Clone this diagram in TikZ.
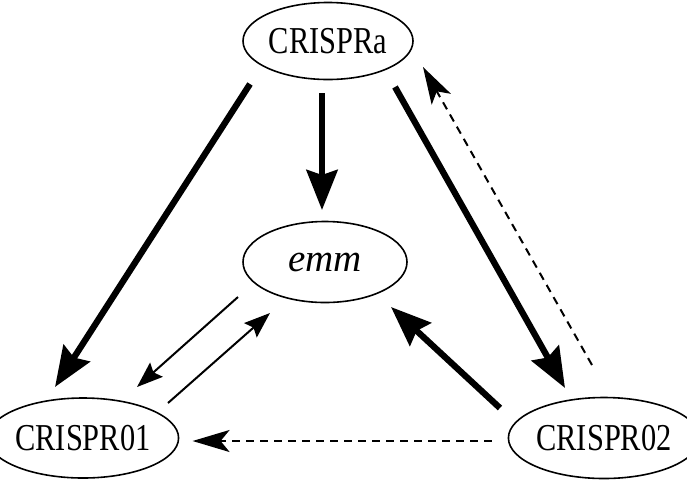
\documentclass[tikz,border=0pt]{standalone}
\usepackage{fontspec}
\setmainfont{Liberation Serif}
\newfontfamily\narrowserif[FakeStretch=0.8]{Liberation Serif}
\usetikzlibrary{arrows.meta,shapes.geometric}
\begin{document}
\begin{tikzpicture}[x=1pt,y=-1pt,
  oval/.style={ellipse,draw,line width=1.6pt,inner sep=0pt,outer sep=0pt},
  lbl/.style={font=\narrowserif\fontsize{38}{40}\selectfont},
  thickarrow/.style={line width=6.3pt,-{Stealth[length=40pt,width=31pt,inset=5pt]}},
  thinarrow/.style={line width=2pt,-{Stealth[length=26pt,width=19pt,inset=4pt]}},
  dasharrow/.style={line width=2pt,dash pattern=on 8pt off 6pt,-{Stealth[length=37pt,width=22pt,inset=9pt]}}]
\useasboundingbox (0,0) rectangle (687,480);
\node[oval,lbl,minimum width=170pt,minimum height=77pt] (cra) at (328,41) {CRISPRa};
\node[oval,minimum width=164pt,minimum height=81pt,font=\fontsize{39}{42}\selectfont\itshape] (emm) at (325,262) {emm};
\node[oval,lbl,minimum width=162pt,minimum height=80pt] (c01) at (83,438) {CRISPR01};
\node[oval,lbl,minimum width=161pt,minimum height=81pt] (c02) at (604,438) {CRISPR02};
% thick arrows
\draw[thickarrow] ([shift={(-78,4.5)}]cra.south) -- ([shift={(-28,-11)}]c01.north);
\draw[thickarrow] ([shift={(-6,13.5)}]cra.south) -- ([shift={(-3,-11.5)}]emm.north);
\draw[thickarrow] ([shift={(67,7.5)}]cra.south) -- ([shift={(-39,-9.5)}]c02.north);
\draw[thickarrow] ([shift={(-8.5,-30)}]c02.west) -- ([shift={(66,4.5)}]emm.south);
% dashed arrows
\draw[dasharrow] ([shift={(-12,-32.5)}]c02.north) -- ([shift={(10,26)}]cra.east);
\draw[dasharrow] ([shift={(-16.5,3)}]c02.west) -- ([shift={(14,3)}]c01.east);
% thin arrows
\draw[thinarrow] ([shift={(-87,-5.5)}]emm.south) -- ([shift={(54,-11)}]c01.north);
\draw[thinarrow] ([shift={(85,5)}]c01.north) -- ([shift={(-55,10.5)}]emm.south);
\end{tikzpicture}
\end{document}
